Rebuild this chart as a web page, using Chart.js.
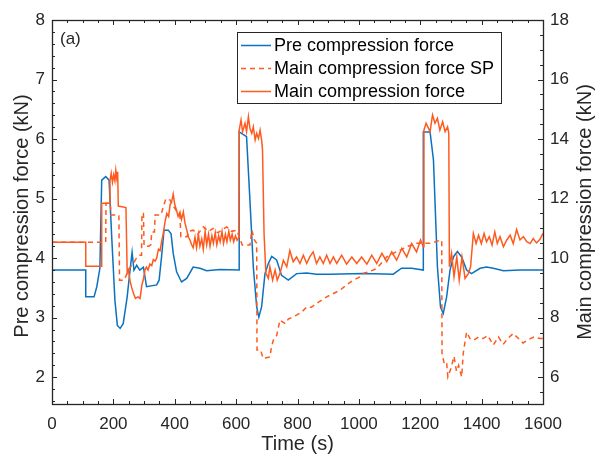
<!DOCTYPE html>
<html>
<head>
<meta charset="utf-8">
<script src="https://cdn.jsdelivr.net/npm/chart.js@4"></script>
<style>
  html, body { margin: 0; padding: 0; background: #fff; }
  #wrap { width: 595px; height: 460px; }
</style>
</head>
<body>
<div id="wrap"><canvas id="forceChart" width="595" height="460"></canvas></div>
<script>
// pre compression force (kN, left axis)
const preT = [0,110,110,137,146,156,162,175,186,194,205,213,222,232,245,252,261,267,276,286,298,308,341,349,357,365,379,388,395,406,422,439,460,482,504,547,610,610,634,645,656,667,674,683,694,705,716,732,748,770,797,830,862,906,1014,1112,1139,1172,1210,1210,1232,1243,1256,1266,1275,1286,1297,1308,1321,1335,1351,1367,1395,1416,1438,1471,1525,1600];
const preV = [3.8,3.8,3.35,3.35,3.52,3.83,5.31,5.37,5.31,4.42,3.29,2.87,2.82,2.9,3.35,3.69,4.1,3.8,3.88,3.8,3.85,3.52,3.55,3.63,4.02,4.47,4.47,4.41,4.08,3.77,3.6,3.66,3.85,3.83,3.79,3.81,3.8,6.12,6.04,4.97,3.85,3.18,3.01,3.18,3.74,3.91,4.03,3.97,3.71,3.63,3.74,3.75,3.73,3.73,3.74,3.73,3.83,3.83,3.8,6.12,6.12,5.65,3.85,3.18,3.07,3.35,3.8,4.02,4.11,4.02,3.8,3.74,3.83,3.85,3.83,3.79,3.8,3.8];

// main compression force set point (kN, right axis)
const spT = [0,175,176,190,192,218,220,235,245,255,265,275,285,292,293,298,300,315,322,325,334,336,355,363,371,385,395,405,417,420,440,445,460,475,493,510,525,540,569,585,602,620,645,651,660,667,668,680,688,710,715,721,732,743,760,770,786,800,815,830,845,862,880,895,915,938,960,982,1000,1014,1035,1058,1075,1091,1110,1134,1160,1188,1210,1232,1250,1264,1270,1271,1278,1286,1290,1300,1310,1318,1325,1335,1340,1351,1362,1373,1390,1405,1420,1438,1455,1470,1485,1503,1520,1535,1550,1570,1590,1600];
const spV = [10.53,10.53,11.84,11.84,11.45,11.45,9.26,9.26,9.5,9.7,9.82,10.0,10.1,10.1,11.5,11.5,10.4,10.4,10.45,10.88,10.88,11.45,11.45,11.73,12.0,11.95,11.75,11.6,11.4,10.72,10.72,10.9,10.94,10.8,11.05,10.9,11.0,10.85,11.05,10.9,10.94,10.44,10.44,10.94,10.6,10.5,6.91,6.91,6.63,6.68,7.0,7.24,7.4,7.92,7.8,7.95,8.03,8.1,8.2,8.36,8.35,8.48,8.6,8.7,8.8,8.92,9.1,9.26,9.35,9.49,9.55,9.65,9.85,10.04,10.15,10.27,10.4,10.5,10.5,10.5,10.55,10.6,10.6,6.8,6.46,6.5,6.01,6.3,6.7,6.2,6.4,6.01,6.8,7.52,7.3,7.24,7.35,7.3,7.4,7.08,7.35,7.1,7.3,7.47,7.3,7.15,7.25,7.35,7.3,7.3];

// main compression force measured (kN, right axis)
const mainT = [0,110,110,160,162,186,189,193,197,201,205,208,211,214,216,241,245,249,255,260,266,272,280,287,293,298,303,308,313,319,325,330,336,341,347,352,358,363,368,374,380,385,390,395,400,406,411,417,422,428,433,439,445,450,455,460,466,471,477,482,488,493,499,504,510,515,521,526,532,537,543,548,554,559,565,570,576,581,587,592,598,603,609,610,616,621,629,634,640,645,651,656,662,667,673,678,683,686,691,697,705,710,719,727,734,743,754,765,775,786,797,808,819,830,840,851,862,873,884,895,906,917,928,944,960,977,993,1009,1026,1042,1058,1075,1091,1107,1123,1140,1156,1172,1188,1201,1210,1212,1219,1232,1240,1248,1256,1264,1273,1281,1289,1293,1295,1302,1310,1319,1327,1336,1346,1357,1364,1373,1382,1390,1399,1408,1416,1425,1434,1443,1451,1460,1471,1482,1493,1503,1514,1525,1536,1547,1558,1568,1579,1590,1600];
const mainV = [10.53,10.53,9.73,9.73,11.84,11.84,12.6,12.85,12.55,12.8,12.6,12.95,12.7,12.9,11.75,11.7,9.5,9.6,9.2,9.0,8.8,8.65,8.7,8.65,9.1,9.3,9.6,9.7,9.6,9.8,9.75,9.95,9.9,10.0,10.3,10.25,10.6,10.85,11.2,11.5,11.4,11.8,11.9,12.15,11.8,11.6,11.4,11.55,11.3,11.55,11.2,10.95,10.7,10.6,10.45,10.35,10.7,10.35,10.8,10.4,10.65,10.3,10.9,10.45,10.8,10.4,10.75,10.5,10.85,10.45,10.75,10.55,10.9,10.5,10.8,10.55,10.9,10.6,10.8,10.55,10.75,10.6,10.7,14.3,14.64,14.25,14.53,14.25,14.75,14.36,14.19,14.41,13.97,14.19,14.02,14.3,13.97,13.63,10.83,9.49,9.32,9.71,9.26,9.6,9.26,9.49,9.93,9.71,10.25,9.88,10.04,9.82,10.1,9.82,10.04,10.21,9.82,10.04,9.82,10.1,9.82,10.04,9.82,10.1,9.8,10.04,9.82,10.04,9.8,10.1,9.82,10.16,9.88,10.21,9.93,10.33,10.04,10.49,10.21,10.61,10.38,14.3,14.53,14.25,14.81,14.53,14.7,14.3,14.58,14.25,14.41,14.19,9.71,10.16,9.37,10.04,9.26,10.04,9.32,9.49,9.71,10.83,10.49,10.77,10.49,10.83,10.55,10.72,10.44,10.88,10.49,10.72,10.38,10.61,10.77,10.49,10.96,10.61,10.72,10.55,10.49,10.66,10.51,10.63,10.83];

const xTicks = [0,200,400,600,800,1000,1200,1400,1600];
const leftTicks = [2,3,4,5,6,7,8];
const rightTicks = [6,8,10,12,14,16,18];

const BLUE = '#0a72c0';
const ORANGE = '#ff5a1e';
const AXIS = '#262626';
const FONT = '"Liberation Sans", Arial, Helvetica, sans-serif';

const pts = (ts, vs) => ts.map((t, i) => ({ x: t, y: vs[i] }));
const fixTicks = list => s => { s.ticks = list.map(v => ({ value: v })); };

// box, inward ticks, titles
const axesBox = {
  id: 'axesBox',
  afterDatasetsDraw(chart) {
    const { ctx, chartArea: a, scales } = chart;
    ctx.save();
    ctx.strokeStyle = AXIS;
    ctx.lineWidth = 1;
    ctx.beginPath();
    for (let v = 0; v <= 1600; v += 50) {
      const px = Math.round(scales.x.getPixelForValue(v)) + 0.5;
      const len = v % 200 === 0 ? 5 : 3;
      ctx.moveTo(px, a.bottom); ctx.lineTo(px, a.bottom - len);
      ctx.moveTo(px, a.top); ctx.lineTo(px, a.top + len);
    }
    for (let i = 8; i <= 40; i++) {
      const py = Math.round(scales.y.getPixelForValue(i / 5)) + 0.5;
      const len = i % 5 === 0 ? 5 : 3;
      ctx.moveTo(a.left, py); ctx.lineTo(a.left + len, py);
    }
    for (let i = 11; i <= 36; i++) {
      const py = Math.round(scales.y2.getPixelForValue(i / 2)) + 0.5;
      const len = i % 4 === 0 ? 5 : 3;
      ctx.moveTo(a.right, py); ctx.lineTo(a.right - len, py);
    }
    ctx.stroke();
    ctx.lineWidth = 1.3;
    ctx.strokeRect(Math.round(a.left) + 0.5, Math.round(a.top) + 0.5,
                   Math.round(a.right - a.left), Math.round(a.bottom - a.top));

    ctx.fillStyle = AXIS;
    ctx.font = '17px ' + FONT;
    ctx.textAlign = 'left';
    ctx.textBaseline = 'middle';
    ctx.fillText('(a)', a.left + 8, a.top + 19);

    ctx.font = '20px ' + FONT;
    ctx.textAlign = 'center';
    ctx.textBaseline = 'alphabetic';
    const midX = (a.left + a.right) / 2, midY = (a.top + a.bottom) / 2;
    ctx.fillText('Time (s)', midX, 450);
    ctx.save();
    ctx.translate(28, midY + 4); ctx.rotate(-Math.PI / 2);
    ctx.fillText('Pre compression force (kN)', 0, 0);
    ctx.restore();
    ctx.save();
    ctx.translate(591, midY); ctx.rotate(-Math.PI / 2);
    ctx.fillText('Main compression force (kN)', 0, 0);
    ctx.restore();
    ctx.restore();
  }
};

// legend box inside the plot
const legendBox = {
  id: 'legendBox',
  afterDraw(chart) {
    const { ctx } = chart;
    const rows = [0, 1, 2].map(i => chart.data.datasets[i]);
    ctx.save();
    ctx.fillStyle = '#fff';
    ctx.fillRect(237, 32, 264, 71);
    ctx.strokeStyle = AXIS;
    ctx.lineWidth = 1;
    ctx.strokeRect(237.5, 32.5, 264, 71);
    ctx.font = '18px ' + FONT;
    ctx.textBaseline = 'middle';
    ctx.textAlign = 'left';
    rows.forEach((ds, i) => {
      const y = 45.5 + i * 23;
      ctx.strokeStyle = ds.borderColor;
      ctx.lineWidth = 1.5;
      ctx.setLineDash(ds.borderDash || []);
      ctx.beginPath();
      ctx.moveTo(241, y); ctx.lineTo(271, y);
      ctx.stroke();
      ctx.setLineDash([]);
      ctx.fillStyle = '#000';
      ctx.fillText(ds.label, 274, y + 1);
    });
    ctx.restore();
  }
};

const tickFont = { family: FONT, size: 17 };
const plain = v => String(v);

new Chart(document.getElementById('forceChart').getContext('2d'), {
  type: 'line',
  data: {
    datasets: [
      { label: 'Pre compression force', data: pts(preT, preV), yAxisID: 'y',
        borderColor: BLUE, borderWidth: 1.5, order: 2 },
      { label: 'Main compression force SP', data: pts(spT, spV), yAxisID: 'y2',
        borderColor: ORANGE, borderWidth: 1.5, borderDash: [5, 4], order: 1 },
      { label: 'Main compression force', data: pts(mainT, mainV), yAxisID: 'y2',
        borderColor: ORANGE, borderWidth: 1.5, order: 0 }
    ]
  },
  options: {
    responsive: false,
    animation: false,
    layout: { padding: { top: 20 } },
    elements: { point: { radius: 0 }, line: { tension: 0 } },
    plugins: { legend: { display: false }, tooltip: { enabled: false } },
    scales: {
      x: {
        type: 'linear', min: 0, max: 1600,
        afterBuildTicks: fixTicks(xTicks),
        afterFit: s => { s.height = 56; },
        grid: { display: false, drawTicks: false },
        border: { display: false },
        ticks: { font: tickFont, color: AXIS, padding: 10, maxRotation: 0, callback: plain }
      },
      y: {
        position: 'left', min: 1.55, max: 8,
        afterBuildTicks: fixTicks(leftTicks),
        afterFit: s => { s.width = 52; },
        grid: { display: false, drawTicks: false },
        border: { display: false },
        ticks: { font: tickFont, color: AXIS, padding: 7, callback: plain }
      },
      y2: {
        position: 'right', min: 5.1, max: 18,
        afterBuildTicks: fixTicks(rightTicks),
        afterFit: s => { s.width = 52; },
        grid: { display: false, drawTicks: false },
        border: { display: false },
        ticks: { font: tickFont, color: AXIS, padding: 7, callback: plain }
      }
    }
  },
  plugins: [axesBox, legendBox]
});
</script>
</body>
</html>
